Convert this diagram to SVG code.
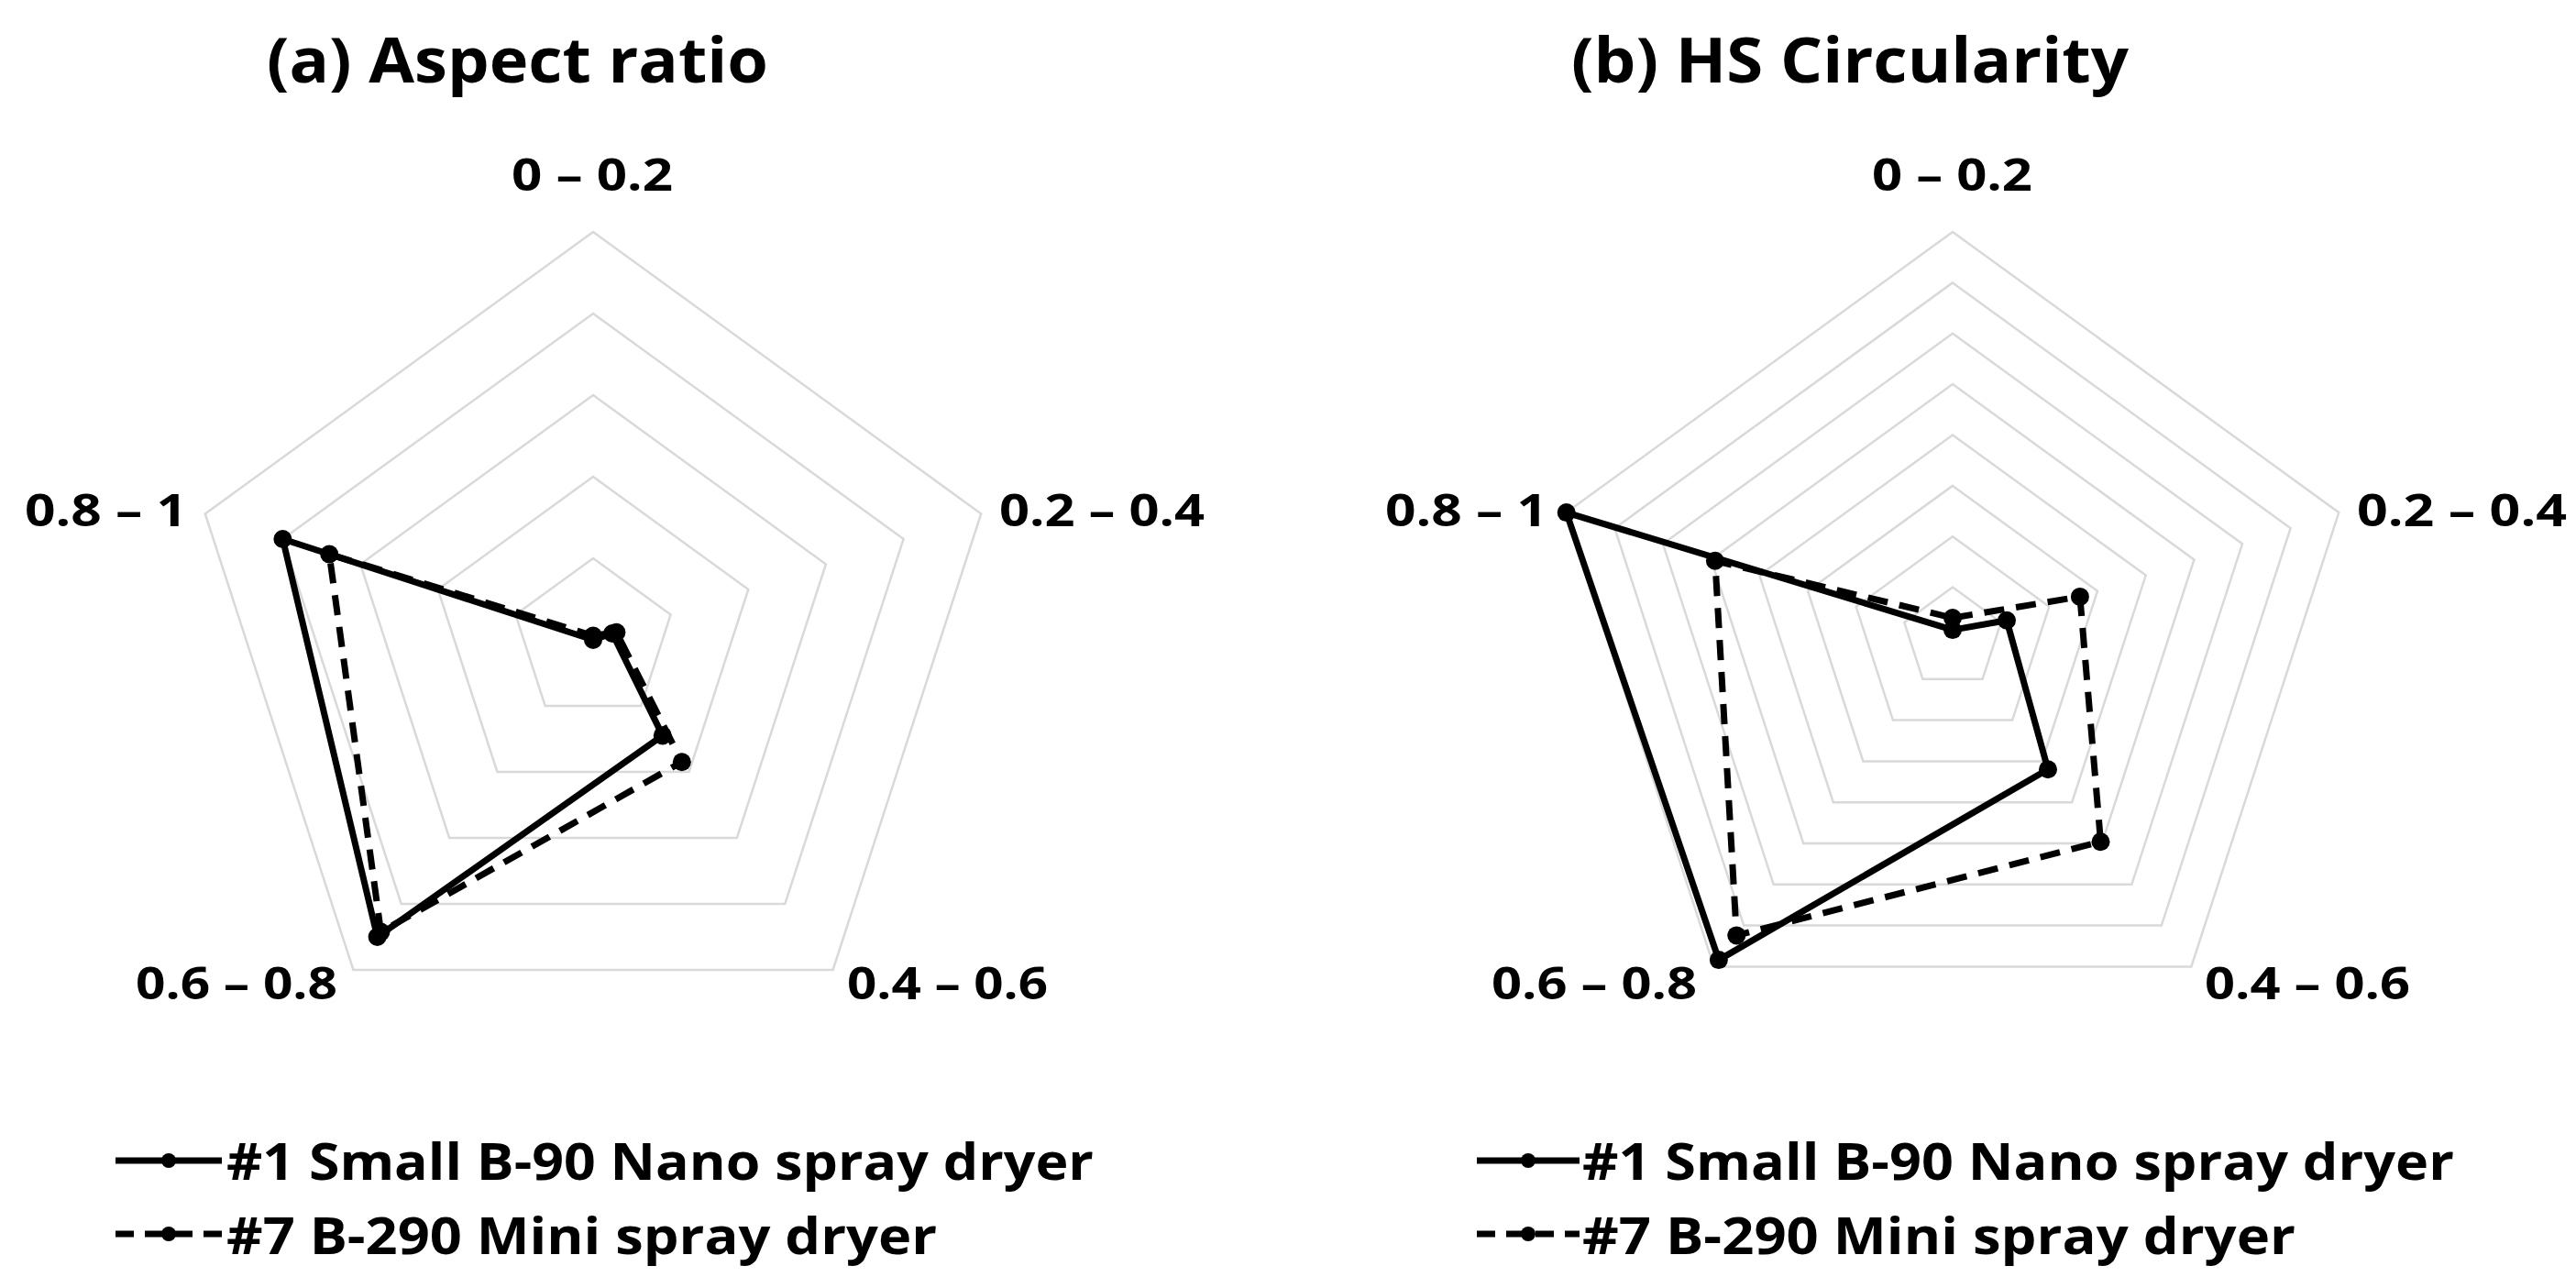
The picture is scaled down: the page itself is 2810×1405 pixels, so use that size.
<svg xmlns="http://www.w3.org/2000/svg" width="2810" height="1405" viewBox="0 0 2810 1405">
<style>
.grid{fill:none;stroke:#d9d9d9;stroke-width:2.5}
.s{fill:none;stroke:#000;stroke-width:7;stroke-linejoin:round}
.d{fill:none;stroke:#000;stroke-width:7;stroke-dasharray:22 13}
.dot{fill:#000}
text{font-family:"Open Sans","Liberation Sans",sans-serif;font-weight:bold;fill:#000}
.t{font-size:68px}
.ax{font-size:48px}
.lg{font-size:56px}
</style>
<rect width="2810" height="1405" fill="#fff"/>
<g id="chartA-grid">
<polygon class="grid" points="647,609 731.6,670.5 699.3,770 594.7,770 562.4,670.5"/>
<polygon class="grid" points="647,520 816.3,643 751.6,842 542.4,842 477.7,643"/>
<polygon class="grid" points="647,431 900.9,615.5 803.9,914 490.1,914 393.1,615.5"/>
<polygon class="grid" points="647,342 985.6,588 856.3,986 437.7,986 308.4,588"/>
<polygon class="grid" points="647,253 1070.2,560.5 908.6,1058 385.4,1058 223.8,560.5"/>
</g>
<g id="chartB-grid">
<polygon class="grid" points="2130,640.6 2182.7,678.9 2162.6,740.8 2097.4,740.8 2077.3,678.9"/>
<polygon class="grid" points="2130,585.25 2235.3,661.8 2195.1,785.6 2064.9,785.6 2024.7,661.8"/>
<polygon class="grid" points="2130,529.9 2288,644.7 2227.6,830.4 2032.4,830.4 1972,644.7"/>
<polygon class="grid" points="2130,474.5 2340.7,627.6 2260.2,875.2 1999.8,875.2 1919.3,627.6"/>
<polygon class="grid" points="2130,419.1 2393.4,610.4 2292.8,920 1967.2,920 1866.6,610.4"/>
<polygon class="grid" points="2130,363.75 2446,593.3 2325.3,964.8 1934.7,964.8 1814,593.3"/>
<polygon class="grid" points="2130,308.4 2498.6,576.2 2357.8,1009.6 1902.2,1009.6 1761.4,576.2"/>
<polygon class="grid" points="2130,253 2551.3,559.1 2390.4,1054.4 1869.6,1054.4 1708.7,559.1"/>
</g>
<g id="labels">
<text class="t" x="291" y="90" textLength="547" lengthAdjust="spacingAndGlyphs">(a)   Aspect ratio</text>
<text class="t" x="1714" y="90" textLength="608" lengthAdjust="spacingAndGlyphs">(b)   HS Circularity</text>
<text class="ax" x="558" y="208" textLength="176" lengthAdjust="spacingAndGlyphs">0 – 0.2</text>
<text class="ax" x="27" y="574" textLength="177" lengthAdjust="spacingAndGlyphs">0.8 – 1</text>
<text class="ax" x="1090" y="574" textLength="224" lengthAdjust="spacingAndGlyphs">0.2 – 0.4</text>
<text class="ax" x="148" y="1090" textLength="220" lengthAdjust="spacingAndGlyphs">0.6 – 0.8</text>
<text class="ax" x="924" y="1090" textLength="219" lengthAdjust="spacingAndGlyphs">0.4 – 0.6</text>
<text class="ax" x="2042" y="208" textLength="175" lengthAdjust="spacingAndGlyphs">0 – 0.2</text>
<text class="ax" x="1511" y="574" textLength="177" lengthAdjust="spacingAndGlyphs">0.8 – 1</text>
<text class="ax" x="2571" y="574" textLength="229" lengthAdjust="spacingAndGlyphs">0.2 – 0.4</text>
<text class="ax" x="1627" y="1090" textLength="224" lengthAdjust="spacingAndGlyphs">0.6 – 0.8</text>
<text class="ax" x="2405" y="1090" textLength="224" lengthAdjust="spacingAndGlyphs">0.4 – 0.6</text>
</g>
<g id="series">
<polygon class="s" points="647,698 668,691 722.8,802.4 411.6,1022 308.4,588"/>
<polygon class="d" points="647,693.5 672.4,689.7 743.8,831.2 415.5,1016.6 359.2,604.5"/>
<polygon class="s" points="2130,687.1 2189,676.8 2234,839.2 1874.9,1047.1 1708.7,559.1"/>
<polygon class="d" points="2130,674 2268.9,650.9 2291.5,918.2 1894.3,1020.4 1870.9,611.8"/>
<g class="dot">
<circle cx="647" cy="698" r="10"/><circle cx="668" cy="691" r="10"/><circle cx="722.8" cy="802.4" r="10"/><circle cx="411.6" cy="1022" r="10"/><circle cx="308.4" cy="588" r="10"/>
<circle cx="647" cy="693.5" r="10"/><circle cx="672.4" cy="689.7" r="10"/><circle cx="743.8" cy="831.2" r="10"/><circle cx="415.5" cy="1016.6" r="10"/><circle cx="359.2" cy="604.5" r="10"/>
<circle cx="2130" cy="687.1" r="10"/><circle cx="2189" cy="676.8" r="10"/><circle cx="2234" cy="839.2" r="10"/><circle cx="1874.9" cy="1047.1" r="10"/><circle cx="1708.7" cy="559.1" r="10"/>
<circle cx="2130" cy="674" r="10"/><circle cx="2268.9" cy="650.9" r="10"/><circle cx="2291.5" cy="918.2" r="10"/><circle cx="1894.3" cy="1020.4" r="10"/><circle cx="1870.9" cy="611.8" r="10"/>
</g>
</g>
<g id="legendA">
<line class="s" x1="126" y1="1266" x2="242" y2="1266"/><circle class="dot" cx="184" cy="1266" r="8"/>
<text class="lg" x="247" y="1287" textLength="946" lengthAdjust="spacingAndGlyphs">#1 Small B-90 Nano spray dryer</text>
<line class="s" x1="126" y1="1346" x2="242" y2="1346" style="stroke-dasharray:20 12"/><circle class="dot" cx="184" cy="1346" r="8"/>
<text class="lg" x="247" y="1368" textLength="775" lengthAdjust="spacingAndGlyphs">#7 B-290 Mini spray dryer</text>
</g>
<g id="legendB">
<line class="s" x1="1611" y1="1266" x2="1723" y2="1266"/><circle class="dot" cx="1667" cy="1266" r="8"/>
<text class="lg" x="1726" y="1287" textLength="951" lengthAdjust="spacingAndGlyphs">#1 Small B-90 Nano spray dryer</text>
<line class="s" x1="1611" y1="1346" x2="1723" y2="1346" style="stroke-dasharray:20 12"/><circle class="dot" cx="1667" cy="1346" r="8"/>
<text class="lg" x="1726" y="1368" textLength="778" lengthAdjust="spacingAndGlyphs">#7 B-290 Mini spray dryer</text>
</g>
</svg>
